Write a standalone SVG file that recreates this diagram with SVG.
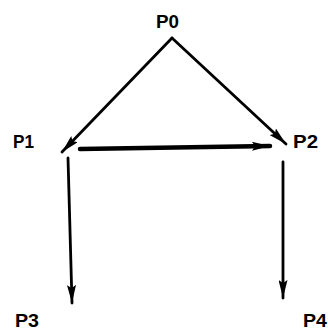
<svg xmlns="http://www.w3.org/2000/svg" width="328" height="330" viewBox="0 0 328 330">
<style>
text{font-family:"Liberation Sans",Arial,sans-serif;font-weight:bold;font-size:19px;fill:#000}
.c{stroke:#000;stroke-width:2.8;fill:none;stroke-linecap:round}
</style>
<defs>
<marker id="ah" markerUnits="userSpaceOnUse" viewBox="0 0 18 9" refX="18" refY="4.5" markerWidth="18" markerHeight="9" orient="auto">
<path d="M0,0 L18,4.5 L0,9 L3,4.5 Z" fill="#000"/>
</marker>
</defs>
<rect width="328" height="330" fill="#fff"/>
<g id="connectors">
<path class="c" d="M172,38 L62,152" marker-end="url(#ah)"/>
<path class="c" d="M172,38 L286,144" marker-end="url(#ah)"/>
<path class="c" d="M80,149 L270,146" style="stroke-width:4.5" marker-end="url(#ah)"/>
<path class="c" d="M68,158 L72,303" marker-end="url(#ah)"/>
<path class="c" d="M283,162 L283,298" marker-end="url(#ah)"/>
</g>
<g id="P0"><text x="156" y="28" textLength="23" lengthAdjust="spacingAndGlyphs">P0</text></g>
<g id="P1"><text x="13" y="148" textLength="21" lengthAdjust="spacingAndGlyphs">P1</text></g>
<g id="P2"><text x="293" y="148" textLength="25" lengthAdjust="spacingAndGlyphs">P2</text></g>
<g id="P3"><text x="15" y="327" textLength="24" lengthAdjust="spacingAndGlyphs">P3</text></g>
<g id="P4"><text x="303" y="327" textLength="24" lengthAdjust="spacingAndGlyphs">P4</text></g>
</svg>
